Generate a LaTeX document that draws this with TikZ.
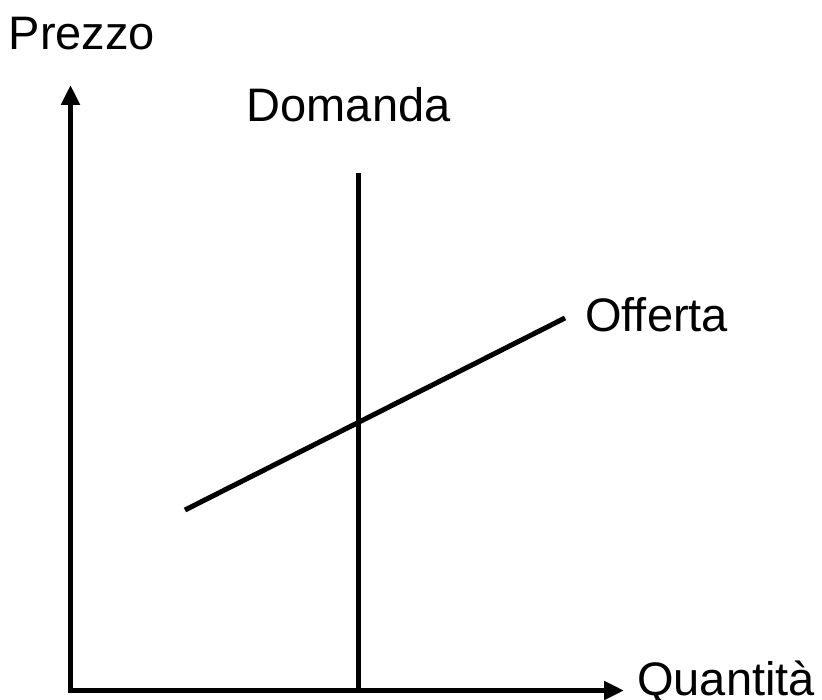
\documentclass[tikz,border=0pt]{standalone}
\usepackage{fontspec}
\setmainfont{Liberation Sans}
\usetikzlibrary{arrows.meta}
\tikzset{
    curve/.style={line width=5pt},
    axis/.style={line width=5pt, line join=miter, {Triangle[length=20pt,width=18pt]}-{Triangle[length=20pt,width=18pt]}},
    lbl/.style={anchor=base west, inner sep=0pt, font=\fontsize{47}{50}\selectfont}
}
\begin{document}
\begin{tikzpicture}[x=1pt,y=-1pt]
            \useasboundingbox (0,0) rectangle (822,700);
            \coordinate (origin) at (70.5,690.5);
            \coordinate (ytop) at (70.5,85);
            \coordinate (xend) at (624,690.5);
            \coordinate (dtop) at (358,173);
            \coordinate (dbot) at (358,690.5);
            \coordinate (sleft) at (185,510);
            \coordinate (sright) at (565,318);

            \node[lbl] (prezzo) at (8.5,50){Prezzo};
            \node[lbl] (domanda) at (246.5,122){Domanda};
            \node[lbl] (offerta) at (585,332){Offerta};
            \node[lbl] (quantita) at (637,695){Quantità};

            \draw[axis] (ytop) -- (origin) -- (xend);
            \draw[curve] (dtop) -- (dbot);
            \draw[curve] (sleft) -- (sright);
        \end{tikzpicture}
\end{document}
